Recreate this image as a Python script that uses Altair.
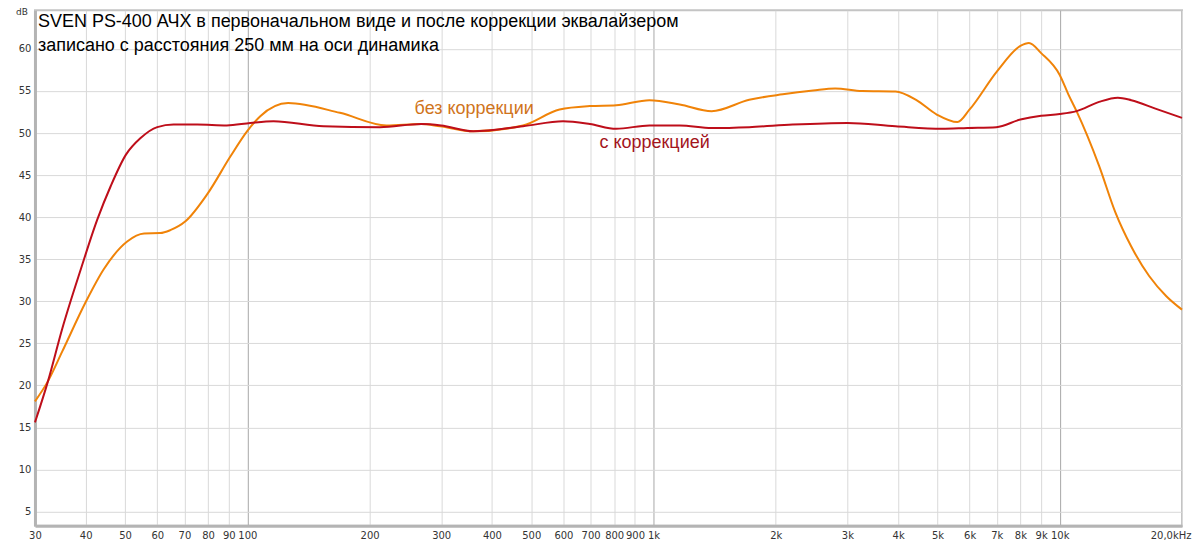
import altair as alt
import pandas as pd

# --- data ---
orange_f = [30, 32.3, 35, 40, 44.3, 50.6, 55.7, 61, 64.6, 70.4, 79.6, 90.8, 99.8, 107.6, 126,
            169, 220, 268, 298, 360, 477, 587, 697, 809, 977, 1160, 1390, 1720, 2080, 2470,
            2800, 3260, 3940, 4430, 4980, 5600, 6000, 7000, 8000, 8400, 9000, 10000, 10500, 11000,
            12500, 13700, 15000, 16600, 18300, 20000]
orange_db = [18.1, 20.5, 24.0, 29.9, 33.8, 37.1, 38.05, 38.1, 38.45, 39.5, 42.7, 47.2, 50.2, 52.0, 53.56,
             52.4, 50.9, 51.07, 50.8, 50.2, 50.9, 52.8, 53.2, 53.3, 53.9, 53.4, 52.6, 53.95, 54.6, 55.05,
             55.3, 55.0, 54.95, 53.95, 52.2, 51.3, 52.8, 57.3, 60.35, 60.7, 59.5, 56.9, 54.6, 52.6,
             46.1, 40.6, 36.5, 33.0, 30.6, 29.0]

red_f = [30, 32.3, 35, 38.9, 42.7, 46.1, 50.2, 54.6, 60, 65.8, 75.2, 89, 101.7, 116, 154, 212,
         268, 300, 360, 477, 599, 697, 809, 977, 1160, 1390, 1720, 2200, 3000, 3940, 5130, 5930,
         6980, 8000, 9000, 10000, 11000, 12500, 13900, 15000, 17200, 20000]
red_db = [15.6, 20.5, 26.7, 33.8, 39.7, 43.7, 47.4, 49.4, 50.7, 51.0, 51.0, 50.9, 51.2, 51.4, 50.8, 50.7,
          51.07, 50.9, 50.2, 50.8, 51.4, 51.07, 50.5, 50.9, 50.9, 50.6, 50.7, 51.0, 51.2, 50.8, 50.5, 50.6,
          50.7, 51.6, 52.05, 52.25, 52.6, 53.7, 54.2, 53.9, 52.9, 51.8]

x_ticks = [30, 40, 50, 60, 70, 80, 90, 100, 200, 300, 400, 500, 600, 700, 800, 900,
           1000, 2000, 3000, 4000, 5000, 6000, 7000, 8000, 9000, 10000, 20000]
y_ticks = [5, 10, 15, 20, 25, 30, 35, 40, 45, 50, 55, 60]

title_line1 = "SVEN PS-400 АЧХ в первоначальном виде и после коррекции эквалайзером"
title_line2 = "записано с расстояния 250 мм на оси динамика"

label_text = ["без коррекции", "с коррекцией"]
label_f = [258, 736]
label_db = [52.8, 48.85]
label_color = ["#D0741C", "#A3141C"]

ORANGE = "#F08308"
RED = "#BE0E1A"

df = pd.concat([
    pd.DataFrame({"f": orange_f, "db": orange_db, "s": "orange"}),
    pd.DataFrame({"f": red_f, "db": red_db, "s": "red"}),
])

xscale = alt.Scale(type="log", domain=[30, 20000], nice=False)
yscale = alt.Scale(domain=[3.3, 64.6], nice=False, zero=False)

grid_color = {"condition": {"test": "datum.value == 100 || datum.value == 1000 || datum.value == 10000",
                            "value": "#a8a8a8"}, "value": "#d9d9d9"}
last_align = {"condition": {"test": "datum.value == 20000", "value": "right"}, "value": "center"}
last_offset = {"condition": {"test": "datum.value == 20000", "value": 9}, "value": 0}

x_axis = alt.Axis(values=x_ticks, title=None, grid=True, gridColor=grid_color, gridWidth=1,
                  ticks=False, labelPadding=5, labelFont="DejaVu Sans", labelFontSize=10,
                  labelFlush=False, labelOverlap=False, labelAlign=last_align, labelOffset=last_offset,
                  labelColor="#333333", domainColor="#b4b4b4", domainWidth=3,
                  labelExpr="datum.value == 20000 ? '20,0kHz' : (datum.value >= 1000 ? (datum.value/1000) + 'k' : datum.value)")
y_axis = alt.Axis(values=y_ticks, title=None, grid=True, gridColor="#d9d9d9", gridWidth=1,
                  ticks=False, labelPadding=4, labelFont="DejaVu Sans", labelFontSize=10,
                  labelFlush=False, labelOverlap=False,
                  labelColor="#333333", domainColor="#b4b4b4", domainWidth=3)

lines = alt.Chart(df).mark_line(strokeWidth=2, interpolate="monotone").encode(
    x=alt.X("f:Q", scale=xscale, axis=x_axis),
    y=alt.Y("db:Q", scale=yscale, axis=y_axis),
    color=alt.Color("s:N", scale=alt.Scale(domain=["orange", "red"], range=[ORANGE, RED]), legend=None),
    detail="s:N",
)

lab_df = pd.DataFrame({"t": label_text, "f": label_f, "db": label_db, "c": label_color})
labels = alt.Chart(lab_df).mark_text(align="left", baseline="middle", fontSize=18,
                                     font="Liberation Sans").encode(
    x=alt.X("f:Q", scale=xscale),
    y=alt.Y("db:Q", scale=yscale),
    text="t:N",
    color=alt.Color("c:N", scale=None),
)

def text_layer(txt, x, y, size, color, font="Liberation Sans", align="left", baseline="middle"):
    return alt.Chart(pd.DataFrame({"t": [txt]})).mark_text(
        align=align, baseline=baseline, fontSize=size, font=font, color=color
    ).encode(x=alt.value(x), y=alt.value(y), text="t:N")

title1 = text_layer(title_line1, 3, 11.5, 18, "#000000")
title2 = text_layer(title_line2, 3, 35.5, 18, "#000000")
db_label = text_layer("dB", -13, -2, 9, "#333333", font="DejaVu Sans", align="center", baseline="top")

chart = alt.layer(lines, labels, title1, title2, db_label).properties(
    width=1148, height=516,
    autosize=alt.AutoSizeParams(type="none"),
    padding={"left": 27, "top": 2, "right": 10, "bottom": 16},
    background="white",
).configure_view(stroke="#c4c4c4", strokeWidth=2)

chart.save("out.html", embed_options={"renderer": "svg", "actions": False})
